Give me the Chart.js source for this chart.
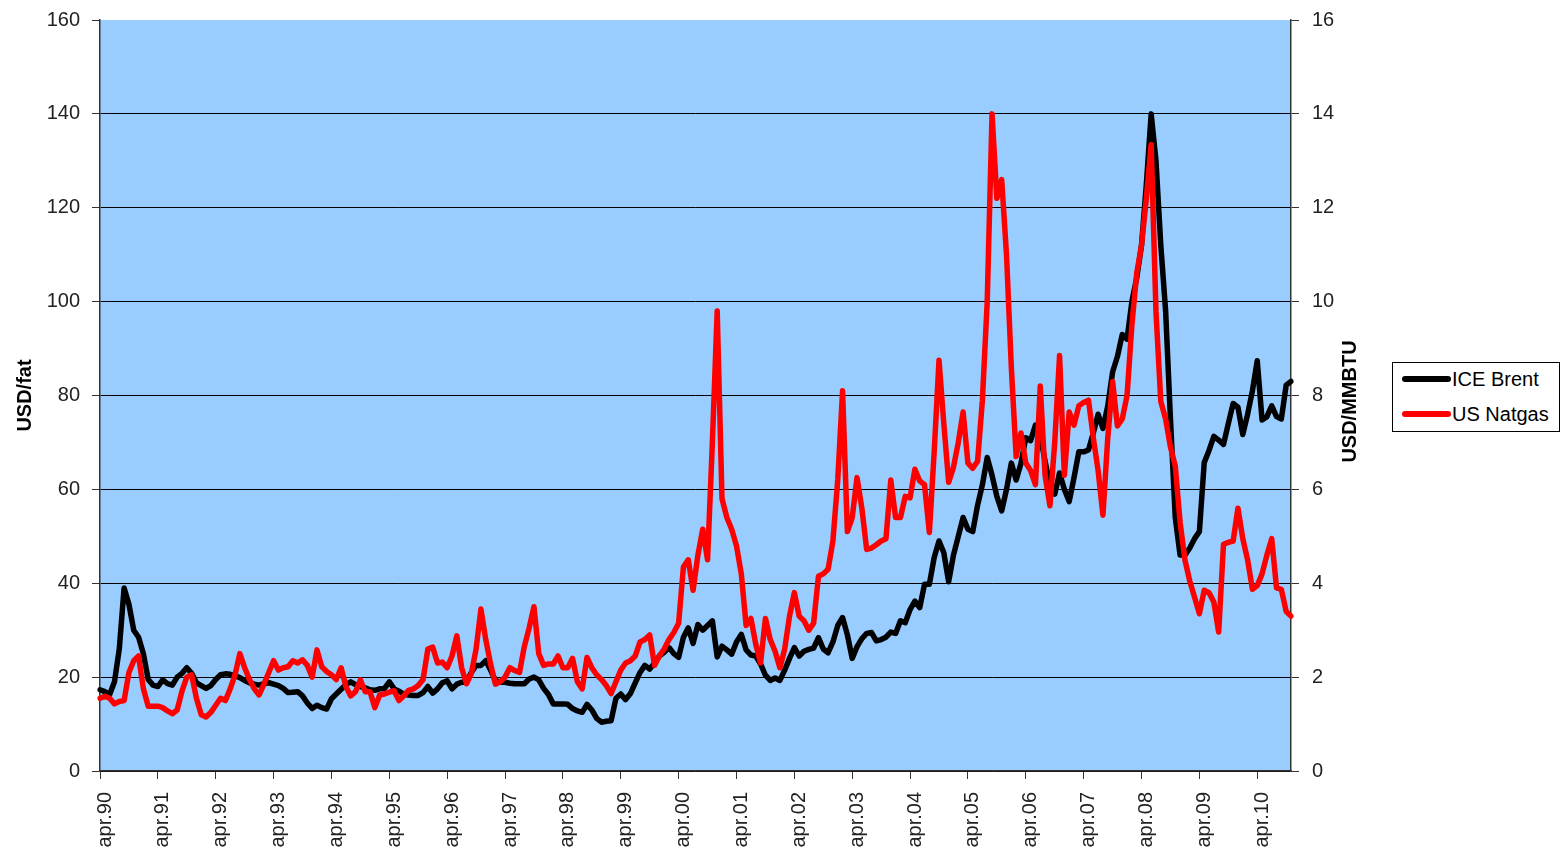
<!DOCTYPE html>
<html>
<head>
<meta charset="utf-8">
<script src="https://cdn.jsdelivr.net/npm/chart.js@4.4.1/dist/chart.umd.min.js"></script>
<style>
html,body{margin:0;padding:0;background:#fff;}
#wrap{position:relative;width:1564px;height:866px;}
#legend{position:absolute;left:1392px;top:362px;width:166px;height:68px;border:1px solid #000;background:#fff;font-family:'Liberation Sans',Arial,sans-serif;font-size:20px;color:#000;}
.item{position:absolute;left:9px;height:24px;display:flex;align-items:center;white-space:nowrap;}
.swatch{width:49px;height:6px;border-radius:3px;margin-right:1px;}
</style>
</head>
<body>
<div id="wrap">
<canvas id="c" width="1564" height="866"></canvas>
<div id="legend"></div>
</div>
<script>
// ---- data ----
const monthNames = ['jan','feb','mar','apr','mai','jun','jul','aug','sep','okt','nov','des'];
const startYear = 1990;
const startMonth = 3; // April
const leftAxisTitle = 'USD/fat';
const rightAxisTitle = 'USD/MMBTU';
const leftTicks = [0, 20, 40, 60, 80, 100, 120, 140, 160];
const rightTicks = [0, 2, 4, 6, 8, 10, 12, 14, 16];

// ICE Brent, USD per barrel, monthly from apr.90
const brent = [
  17.3, 16.9, 16.3, 19, 26, 39, 35.5, 30, 28.5, 25, 19.5, 18.3,
  18, 19.4, 18.6, 18.3, 20, 20.8, 22, 20.8, 18.8, 18.2, 17.6, 18.2,
  19.5, 20.5, 20.7, 20.6, 20.3, 19.9, 19.3, 18.8, 18.5, 18.3, 18.6, 18.8,
  18.5, 18.2, 17.6, 16.7, 16.8, 16.9, 16, 14.5, 13.3, 14, 13.5, 13.2,
  15.4, 16.4, 17.4, 18.4, 19, 18.4, 18, 17.7, 17.3, 17.2, 17.5, 17.6,
  19, 17.5, 17, 16.4, 16.2, 16.1, 16.1, 16.7, 18, 16.6, 17.5, 18.8,
  19.2, 17.5, 18.5, 18.9, 18.9, 21, 22.5, 22.5, 23.5, 21.5, 19.3, 18.9,
  18.9, 18.7, 18.6, 18.6, 18.6, 19.6, 20, 19.4, 17.6, 16.3, 14.3, 14.3,
  14.3, 14.2, 13.3, 12.8, 12.5, 14.2, 13, 11.2, 10.4, 10.6, 10.7, 15.5,
  16.4, 15.2, 16.5, 18.8, 21, 22.5, 21.7, 23, 24.5, 25.3, 26.3, 25,
  24.2, 28.5, 30.5, 27.2, 31.2, 30, 31, 32, 24.3, 26.6, 25.8, 24.9,
  27.5, 29.1, 25.8, 24.7, 24.5, 22.8, 20.4, 19.3, 19.8, 19.3, 21.5, 24,
  26.3, 24.5, 25.5, 25.9, 26.2, 28.4, 26, 25.2, 27.5, 31, 32.7, 29,
  24, 26.5, 28.2, 29.3, 29.5, 27.7, 28, 28.5, 29.6, 29.3, 32, 31.6,
  34.4, 36.2, 34.8, 39.8, 39.8, 45.5, 49, 46.5, 40.3, 46, 50, 54,
  51.5, 51, 56.6, 61, 66.8, 63, 58.5, 55.4, 60, 65.6, 62, 65.5,
  71, 70.4, 73.7, 71.5, 66, 61, 59, 63.5, 60, 57.4, 62.5, 68,
  68, 68.4, 72, 76, 73, 77.8, 85, 88.3, 93, 92, 100, 105,
  112, 125, 140, 130, 112, 98, 75, 54, 46, 46, 47.5, 49.5,
  51, 65.7, 68.3, 71.3, 70.5, 69.6, 74, 78.3, 77.5, 71.7, 76, 81,
  87.4, 74.8, 75.5, 77.8, 75.5, 75, 82.2, 83
];

// US natural gas, USD per MMBTU, monthly from apr.90
const natgas = [
  1.55, 1.59, 1.55, 1.43, 1.48, 1.5, 2.1, 2.35, 2.45, 1.75, 1.38, 1.38,
  1.38, 1.35, 1.28, 1.22, 1.3, 1.7, 2.0, 2.05, 1.55, 1.2, 1.15, 1.25,
  1.4, 1.55, 1.5, 1.75, 2.05, 2.5, 2.2, 1.95, 1.75, 1.62, 1.85, 2.1,
  2.35, 2.15, 2.2, 2.22, 2.35, 2.3, 2.37, 2.25, 2.0, 2.58, 2.22, 2.12,
  2.05, 1.95, 2.2, 1.8, 1.6, 1.69, 1.94, 1.69, 1.69, 1.35, 1.62, 1.64,
  1.68, 1.71, 1.5, 1.6, 1.72, 1.75, 1.82, 1.95, 2.6, 2.64, 2.3, 2.32,
  2.2, 2.45, 2.88, 2.2, 1.86, 2.07, 2.6, 3.45, 2.8, 2.28, 1.85, 1.9,
  2.0, 2.2, 2.14, 2.1, 2.65, 3.05, 3.5, 2.5, 2.25, 2.28, 2.28, 2.45,
  2.2, 2.2, 2.4, 1.9, 1.75, 2.42, 2.2, 2.05, 1.95, 1.82, 1.65, 1.9,
  2.15, 2.3, 2.35, 2.45, 2.75, 2.8, 2.9, 2.25, 2.45, 2.6, 2.8, 2.95,
  3.15, 4.35, 4.5, 3.85, 4.6, 5.15, 4.5, 7.0, 9.8, 5.8, 5.4, 5.15,
  4.8, 4.2, 3.1, 3.25, 2.7, 2.3, 3.25, 2.8, 2.55, 2.2, 2.6, 3.3,
  3.8, 3.3, 3.2, 3.0, 3.15, 4.15, 4.2, 4.3, 4.9, 6.2, 8.1, 5.1,
  5.4, 6.25, 5.6, 4.72, 4.75, 4.82, 4.9, 4.95, 6.2, 5.4, 5.4, 5.85,
  5.82, 6.43, 6.18, 6.1, 5.08, 6.8, 8.75, 7.4, 6.15, 6.47, 7.0, 7.65,
  6.56, 6.45, 6.6, 7.9, 10.0, 14.0, 12.2, 12.6, 11.0, 8.6, 6.7, 7.2,
  6.56, 6.4, 6.1, 8.2, 6.3, 5.65, 7.0, 8.85, 6.3, 7.65, 7.37, 7.78,
  7.85, 7.9, 7.1, 6.4, 5.45, 7.1, 8.3, 7.35, 7.5, 8.0, 9.5, 10.6,
  11.2, 12.2, 13.35, 9.78, 7.87, 7.5, 6.9, 6.5, 5.3, 4.5, 4.05, 3.7,
  3.35, 3.85, 3.8, 3.6, 2.96, 4.83, 4.87, 4.9, 5.6, 4.95, 4.5, 3.87,
  3.95, 4.2, 4.6, 4.95, 3.9, 3.87, 3.4, 3.3
];

const seriesNames = ['ICE Brent', 'US Natgas'];
const seriesColors = ['#000000', '#FF0000'];

// month labels: "apr.90", "mai.90", ...
const labels = brent.map((_, i) => {
  const m = (startMonth + i) % 12;
  const y = startYear + Math.floor((startMonth + i) / 12);
  return monthNames[m] + '.' + String(y % 100).padStart(2, '0');
});

// ---- chart ----
const FONT = "'Liberation Sans', Arial, sans-serif";
Chart.defaults.font.family = FONT;
Chart.defaults.font.size = 20;
Chart.defaults.color = '#222';

const plotBg = {
  id: 'plotBg',
  beforeDraw(chart) {
    const a = chart.chartArea, ctx = chart.ctx;
    ctx.save();
    ctx.fillStyle = '#99CCFF';
    ctx.fillRect(a.left, a.top, a.right - a.left, a.bottom - a.top);
    ctx.restore();
  }
};

const rightTitle = {
  id: 'rightTitle',
  afterDraw(chart) {
    const s = chart.scales.y1, ctx = chart.ctx;
    ctx.save();
    ctx.translate(s.left + 59, (s.top + s.bottom) / 2 + 6);
    ctx.rotate(-Math.PI / 2);
    ctx.font = 'bold 20px ' + FONT;
    ctx.fillStyle = '#000';
    ctx.textAlign = 'center';
    ctx.textBaseline = 'middle';
    ctx.fillText(rightAxisTitle, 0, 0);
    ctx.restore();
  }
};

function fitVertical(width) {
  return (s) => { s.width = width; s.paddingTop = 0; s.paddingBottom = 0; };
}

const chart = new Chart(document.getElementById('c'), {
  type: 'line',
  data: {
    labels: labels,
    datasets: [
      { label: seriesNames[0], data: brent, yAxisID: 'y', borderColor: seriesColors[0], backgroundColor: seriesColors[0],
        borderWidth: 5.5, pointRadius: 0, tension: 0, borderJoinStyle: 'round', borderCapStyle: 'round', order: 1 },
      { label: seriesNames[1], data: natgas, yAxisID: 'y1', borderColor: seriesColors[1], backgroundColor: seriesColors[1],
        borderWidth: 5.5, pointRadius: 0, tension: 0, borderJoinStyle: 'round', borderCapStyle: 'round', order: 0 }
    ]
  },
  options: {
    responsive: false,
    devicePixelRatio: 1,
    animation: false,
    layout: { padding: { top: 20, right: 193, bottom: 0, left: 0 } },
    plugins: { legend: { display: false }, tooltip: { enabled: false } },
    scales: {
      x: {
        type: 'category',
        offset: false,
        grid: { display: true, drawOnChartArea: false, drawTicks: true, tickLength: 8, color: '#333', lineWidth: 1 },
        border: { display: true, color: '#333', width: 1.5 },
        ticks: {
          autoSkip: false, maxRotation: 90, minRotation: 90, padding: 13, labelOffset: 5,
          font: { size: 20 }, color: '#222',
          callback: function (val, idx) { return idx % 12 === 0 ? labels[idx] : null; }
        },
        afterFit: (s) => { s.height = 95; s.paddingLeft = 0; s.paddingRight = 0; }
      },
      y: {
        position: 'left',
        min: leftTicks[0], max: leftTicks[leftTicks.length - 1],
        afterBuildTicks: (s) => { s.ticks = leftTicks.map(v => ({ value: v })); },
        grid: {
          drawTicks: true, tickLength: 8, lineWidth: 1, tickColor: '#333',
          color: (ctx) => (ctx.tick && ctx.tick.value === 160) ? 'rgba(0,0,0,0)' : '#000'
        },
        border: { display: true, color: '#333', width: 1.5 },
        ticks: { padding: 12, font: { size: 20 }, color: '#222' },
        title: { display: true, text: leftAxisTitle, font: { size: 20, weight: 'bold' }, color: '#000', padding: { top: 13, bottom: 0 } },
        afterFit: fitVertical(100)
      },
      y1: {
        position: 'right',
        min: rightTicks[0], max: rightTicks[rightTicks.length - 1],
        afterBuildTicks: (s) => { s.ticks = rightTicks.map(v => ({ value: v })); },
        grid: { drawOnChartArea: false, drawTicks: true, tickLength: 8, color: '#333', lineWidth: 1 },
        border: { display: true, color: '#333', width: 1.5 },
        ticks: { padding: 13, font: { size: 20 }, color: '#222' },
        afterFit: fitVertical(80)
      }
    }
  },
  plugins: [plotBg, rightTitle]
});

// HTML legend built from the datasets
const lg = document.getElementById('legend');
chart.data.datasets.forEach((ds, k) => {
  const it = document.createElement('div');
  it.className = 'item';
  it.style.top = (4 + k * 35) + 'px';
  const sw = document.createElement('span');
  sw.className = 'swatch';
  sw.style.background = ds.borderColor;
  const tx = document.createElement('span');
  tx.textContent = ds.label;
  it.appendChild(sw);
  it.appendChild(tx);
  lg.appendChild(it);
});
</script>
</body>
</html>
